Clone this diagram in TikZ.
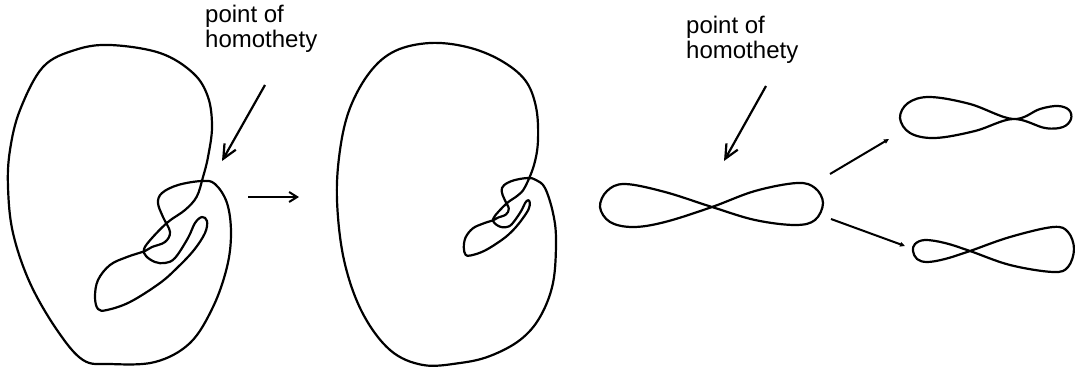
\documentclass[tikz,border=0pt]{standalone}
\usepackage{fontspec}
\setmainfont{Liberation Sans}
\usetikzlibrary{arrows.meta}
\begin{document}
\begin{tikzpicture}[x=1pt,y=-1pt,
  curve/.style={line width=2.2pt, line join=round},
  pointer/.style={line width=2.2pt, -{Straight Barb[length=14pt,width=13pt,line width=2.2pt]}},
  smallarrow/.style={line width=2pt, -{Straight Barb[length=8pt,width=10pt,line width=2pt]}},
  tinyarrow/.style={line width=2pt, -{Triangle[length=5pt,width=4.5pt]}},
  lbl/.style={inner sep=0pt, align=left, anchor=north west, font=\fontsize{24}{25}\selectfont}]
\useasboundingbox (0,0) rectangle (1075,367);

% labels
\node[lbl] (lab1) at (205,5) {point of\\homothety};
\node[lbl] (lab2) at (686,16) {point of\\homothety};

% figure 1
\draw[curve] plot[smooth cycle, tension=0.6] coordinates {
 (110,364) (83,360) (57,330) (30,283) (13,233) (8,187) (10,150) (20,110)
 (43,67) (75,50) (110,45) (160,53) (193,73) (208,97) (212,127) (208,157) (203,177)
 (196.7,196.7) (185,210) (168,222) (152,238) (144,249) (146,256) (155,262)
 (165,263) (175,258) (188,238) (195,223) (202,217) (207,221) (205,233)
 (194,250) (178,267) (160,283) (130,302) (107,310) (98,309) (95,297) (98,280)
 (110,265) (127,257) (145,251) (152,247) (165,242) (170,232) (163,217)
 (158,203) (162,193) (178,185) (202,181) (215,184) (227,203) (231,233)
 (227,267) (213,307) (190,343) (155,362)};

% figure 2
\draw[curve] plot[smooth cycle, tension=0.6] coordinates {
 (423,365) (390,350) (362,312) (344,260) (337,200) (340,150) (350,108) (370,72)
 (395,51) (430,43) (467,47) (500,60) (525,80) (536,107) (538,140) (534,165)
 (524.8,187.4) (517.8,195.4) (507.6,202.6) (498,212.2) (493.2,218.8) (494.4,223)
 (499.8,226.6) (505.8,227.2) (511.8,224.2) (520.8,211.6) (525,203.2) (528,200.2)
 (529.8,202.6) (528.6,209.2) (522,219.4) (513.6,229.6) (502.8,239.2) (484.8,250.6)
 (471,255.4) (465.6,254.8) (463.8,247.6) (465.6,237.4) (472.8,228.4) (483,223.6)
 (493.8,220) (498,217.6) (505.8,214.6) (508.8,208.6) (504.6,199.6) (501.6,191.2)
 (504,185.2) (513.6,180.4) (528,178) (536,180) (545,188) (553,213) (556,240)
 (553,283) (540,317) (520,340) (490,356) (460,363)};

% figure eight (middle)
\draw[curve] plot[smooth cycle, tension=0.6] coordinates {
 (712,207) (755,220) (795,225) (815,220) (823,203) (815,188) (797,183) (755,191)
 (712,207) (665,222) (633,227) (610,222) (600,207) (607,191) (625,184) (665,192)};

% upper small eight
\draw[curve] plot[smooth cycle, tension=0.6] coordinates {
 (1013,119) (1040,109) (1058,106) (1069,110) (1071,119) (1063,127) (1045,128)
 (1013,119) (975,131) (935,138) (910,133) (900,118) (908,103) (930,97) (970,104)};

% lower small eight
\draw[curve] plot[smooth cycle, tension=0.6] coordinates {
 (970,251) (1010,237) (1053,227) (1068,232) (1074,249) (1068,267) (1053,272)
 (1010,265) (970,251) (945,243) (925,240) (915,244) (913,251) (917,259)
 (927,262) (945,259)};

% arrows
\coordinate (a1s) at (265,85);
\coordinate (a1e) at (222,161);
\coordinate (a2s) at (766,86);
\coordinate (a2e) at (724,161);
\coordinate (h1s) at (248,197);
\coordinate (h1e) at (299,197);
\coordinate (u1s) at (830,174);
\coordinate (u1e) at (889,139);
\coordinate (d1s) at (831,219);
\coordinate (d1e) at (905,246);
\draw[pointer] (a1s) -- (a1e);
\draw[pointer] (a2s) -- (a2e);
\draw[smallarrow] (h1s) -- (h1e);
\draw[tinyarrow] (u1s) -- (u1e);
\draw[tinyarrow] (d1s) -- (d1e);
\end{tikzpicture}
\end{document}
